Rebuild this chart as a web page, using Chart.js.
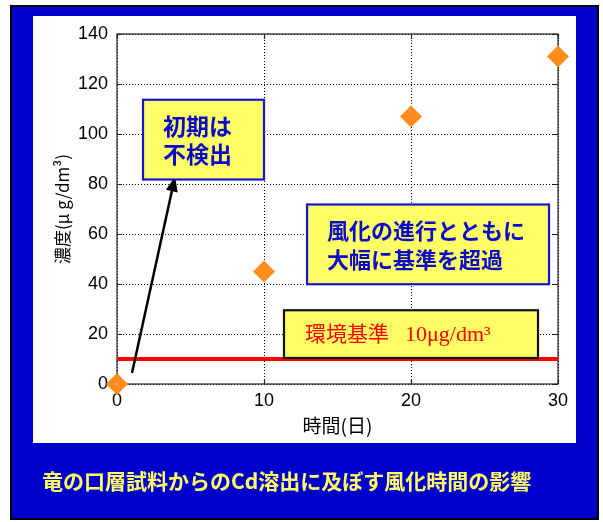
<!DOCTYPE html>
<html><head><meta charset="utf-8">
<script src="https://cdn.jsdelivr.net/npm/chart.js@4/dist/chart.umd.min.js"></script>
<style>html,body{margin:0;padding:0;background:#fff}</style>
</head><body>
<canvas id="c" width="603" height="522" style="display:block;width:603px;height:522px"></canvas>
<script>
// ---- data ----
const days = [0, 10, 20, 30];
const cdConc = [0, 45, 107, 131];
const standardValue = 10;
const xTickValues = [0, 10, 20, 30];
const yTickValues = [0, 20, 40, 60, 80, 100, 120, 140];
const xTitle = '時間(日)';
const yTitle = '濃度(μ g/dm³)';
const captionText = '竜の口層試料からのCd溶出に及ぼす風化時間の影響';
const note1Lines = ['初期は', '不検出'];
const note2Lines = ['風化の進行とともに', '大幅に基準を超過'];
const note3Jp = '環境基準';
const note3Val = '10μg/dm³';

// ---- annotation placement (data units) ----
const boxes = [
  {x0: 1.77, x1: 10.0, y0: 113.7, y1: 81.8, fill: '#FFFF66', stroke: '#1414D2', lines: note1Lines,
   font: 'bold 23px "Noto Sans CJK JP"', color: '#0A0AC8', padX: 20, lh: 28},
  {x0: 12.93, x1: 29.39, y0: 71.8, y1: 39.9, fill: '#FFFF66', stroke: '#1414D2', lines: note2Lines,
   font: 'bold 22px "Noto Sans CJK JP"', color: '#0A0AC8', padX: 20, lh: 29},
  {x0: 11.36, x1: 28.64, y0: 29.5, y1: 10.4, fill: '#FFFF66', stroke: '#111', lines: null}
];
const arrowFrom = {x: 1.02, y: 4.4};
const arrowTo = {x: 3.95, y: 83};

const framePlugin = {
  id: 'frame',
  beforeDraw(chart) {
    const ctx = chart.ctx;
    ctx.save();
    ctx.fillStyle = '#fff'; ctx.fillRect(0, 0, 603, 522);
    ctx.fillStyle = '#000'; ctx.fillRect(10, 5, 589, 515);
    ctx.fillStyle = '#0000CC'; ctx.fillRect(12, 7, 585, 511);
    ctx.fillStyle = '#fff'; ctx.fillRect(33, 16, 543, 427);
    ctx.restore();
  },
  beforeDatasetsDraw(chart) {
    const ctx = chart.ctx, a = chart.chartArea;
    const xs = chart.scales.x, ys = chart.scales.y;
    ctx.save();
    ctx.strokeStyle = '#222'; ctx.lineWidth = 1.2;
    ctx.strokeRect(a.left, a.top, a.right - a.left, a.bottom - a.top);
    ctx.beginPath();
    yTickValues.forEach(v => {
      const y = Math.round(ys.getPixelForValue(v)) + 0.5;
      ctx.moveTo(a.left, y); ctx.lineTo(a.left + 5, y);
      ctx.moveTo(a.right, y); ctx.lineTo(a.right - 5, y);
    });
    xTickValues.forEach(v => {
      const x = Math.round(xs.getPixelForValue(v)) + 0.5;
      ctx.moveTo(x, a.top); ctx.lineTo(x, a.top + 5);
      ctx.moveTo(x, a.bottom); ctx.lineTo(x, a.bottom - 5);
    });
    ctx.stroke();
    ctx.restore();
  },
  afterDatasetsDraw(chart) {
    const ctx = chart.ctx;
    const xs = chart.scales.x, ys = chart.scales.y;
    ctx.save();
    // arrow
    const x1 = xs.getPixelForValue(arrowFrom.x), y1 = ys.getPixelForValue(arrowFrom.y);
    const x2 = xs.getPixelForValue(arrowTo.x), y2 = ys.getPixelForValue(arrowTo.y);
    const ang = Math.atan2(y2 - y1, x2 - x1);
    const hl = 15, hw = 6;
    ctx.strokeStyle = '#000'; ctx.lineWidth = 2.5;
    ctx.beginPath(); ctx.moveTo(x1, y1);
    ctx.lineTo(x2 - Math.cos(ang) * hl * 0.8, y2 - Math.sin(ang) * hl * 0.8); ctx.stroke();
    ctx.fillStyle = '#000';
    ctx.beginPath();
    ctx.moveTo(x2, y2);
    ctx.lineTo(x2 - Math.cos(ang) * hl + Math.sin(ang) * hw, y2 - Math.sin(ang) * hl - Math.cos(ang) * hw);
    ctx.lineTo(x2 - Math.cos(ang) * hl - Math.sin(ang) * hw, y2 - Math.sin(ang) * hl + Math.cos(ang) * hw);
    ctx.closePath(); ctx.fill();
    // boxes
    boxes.forEach((b) => {
      const L = xs.getPixelForValue(b.x0), R = xs.getPixelForValue(b.x1);
      const T = ys.getPixelForValue(b.y0), B = ys.getPixelForValue(b.y1);
      ctx.fillStyle = b.fill; ctx.fillRect(L, T, R - L, B - T);
      ctx.strokeStyle = b.stroke; ctx.lineWidth = 2.2;
      ctx.strokeRect(L, T, R - L, B - T);
      const cy = (T + B) / 2;
      if (b.lines) {
        ctx.font = b.font; ctx.fillStyle = b.color;
        ctx.textAlign = 'left'; ctx.textBaseline = 'middle';
        const n = b.lines.length;
        b.lines.forEach((t, k) => {
          ctx.fillText(t, L + b.padX, cy + (k - (n - 1) / 2) * b.lh + 1);
        });
      } else {
        ctx.fillStyle = '#FF0000'; ctx.textBaseline = 'alphabetic'; ctx.textAlign = 'left';
        ctx.font = '21px "Noto Sans CJK JP"';
        ctx.fillText(note3Jp, L + 21, cy + 7);
        ctx.font = '22px "Liberation Serif"';
        ctx.fillText(note3Val, L + 121, cy + 7);
      }
    });
    ctx.restore();
  },
  afterDraw(chart) {
    const ctx = chart.ctx;
    ctx.save();
    ctx.fillStyle = '#FFFF66';
    ctx.font = 'bold 21px "Noto Sans CJK JP"';
    ctx.textAlign = 'left'; ctx.textBaseline = 'middle';
    ctx.fillText(captionText, 42, 481);
    ctx.restore();
  }
};

new Chart(document.getElementById('c'), {
  type: 'scatter',
  data: {
    datasets: [
      {
        label: 'Cd',
        data: days.map((d, i) => ({x: d, y: cdConc[i]})),
        pointStyle: 'rectRot',
        pointRadius: 11,
        backgroundColor: '#FF8C1E',
        borderWidth: 0,
        showLine: false,
        clip: false,
        order: 0
      },
      {
        label: '環境基準',
        type: 'line',
        data: [{x: xTickValues[0], y: standardValue}, {x: xTickValues[xTickValues.length - 1], y: standardValue}],
        borderColor: '#FF0000',
        borderWidth: 4,
        pointRadius: 0,
        showLine: true,
        clip: false,
        order: 1
      }
    ]
  },
  options: {
    responsive: false,
    animation: false,
    devicePixelRatio: 1,
    layout: {padding: {left: 0, top: 34, right: 45, bottom: 0}},
    plugins: {legend: {display: false}, tooltip: {enabled: false}},
    scales: {
      x: {
        type: 'linear', min: 0, max: 30,
        afterBuildTicks: s => { s.ticks = xTickValues.map(v => ({value: v})); },
        afterFit: s => { s.height = 138; },
        grid: {color: '#000', drawTicks: false, lineWidth: 1},
        border: {display: false, dash: [1, 2]},
        ticks: {color: '#000', padding: 6, font: {family: 'Liberation Sans', size: 18}},
        title: {display: true, text: xTitle, color: '#000',
                font: {family: 'Noto Sans CJK JP', size: 19}, padding: {top: 0, bottom: 85}}
      },
      y: {
        type: 'linear', min: 0, max: 140,
        afterBuildTicks: s => { s.ticks = yTickValues.map(v => ({value: v})); },
        afterFit: s => { s.width = 117; },
        grid: {color: '#000', drawTicks: false, lineWidth: 1},
        border: {display: false, dash: [1, 2]},
        ticks: {color: '#000', padding: 9, font: {family: 'Liberation Sans', size: 18}},
        title: {display: true, text: yTitle, color: '#000',
                font: {family: 'Noto Sans CJK JP', size: 17}, padding: {top: 52, bottom: 0}}
      }
    }
  },
  plugins: [framePlugin]
});
</script>
</body></html>
